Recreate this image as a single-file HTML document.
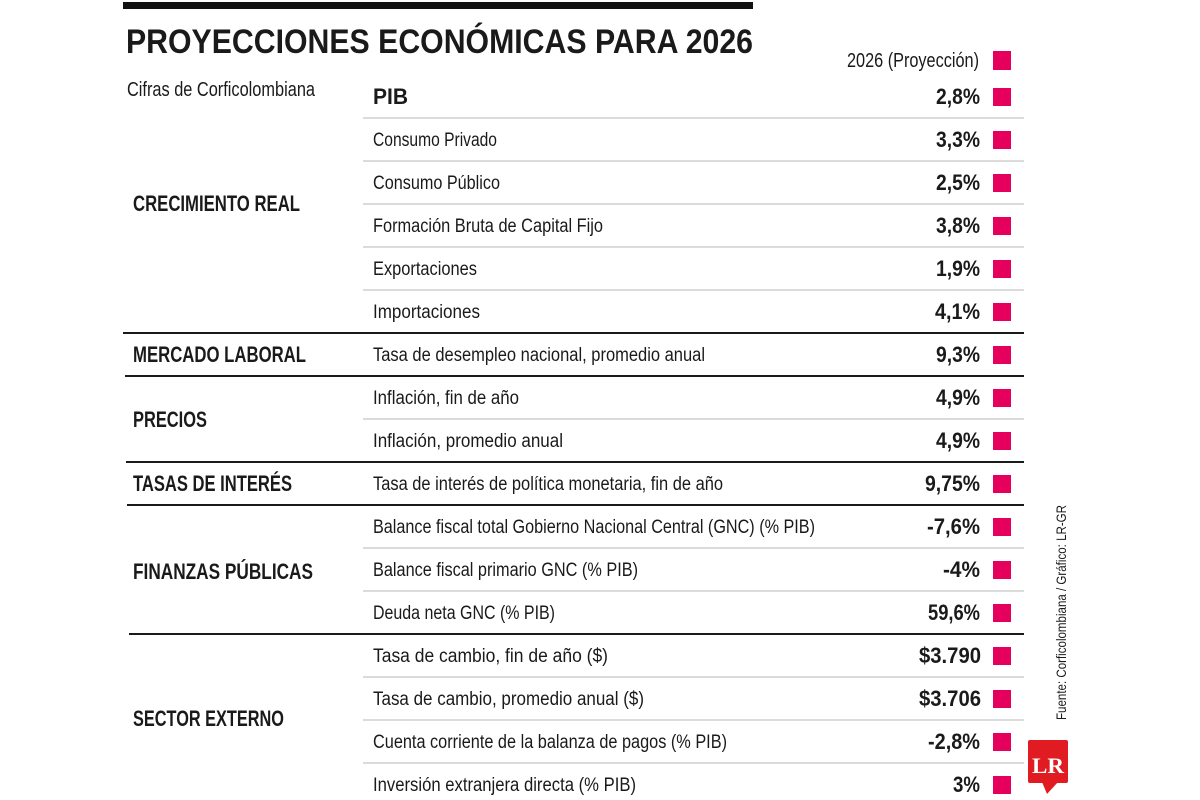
<!DOCTYPE html>
<html>
<head>
<meta charset="utf-8">
<style>
html,body{margin:0;padding:0;background:#fff;}
svg{display:block;}
.t{font-family:"Liberation Sans",sans-serif;fill:#1a1a1a;}
.r{font-size:19px;font-weight:400;}
.b{font-size:22.5px;font-weight:700;}
.v{font-size:22.5px;font-weight:700;text-anchor:end;}
</style>
</head>
<body>
<svg width="1200" height="800" viewBox="0 0 1200 800" xmlns="http://www.w3.org/2000/svg">
<rect x="0" y="0" width="1200" height="800" fill="#fff"/>
<!-- top bar -->
<rect x="123" y="2" width="630" height="7" fill="#111"/>
<!-- title -->
<text class="t" x="126" y="53" font-size="34" font-weight="700" textLength="627" lengthAdjust="spacingAndGlyphs">PROYECCIONES ECONÓMICAS PARA 2026</text>
<text class="t r" x="127" y="96" font-size="20" textLength="188" lengthAdjust="spacingAndGlyphs" style="font-size:20px">Cifras de Corficolombiana</text>
<!-- legend -->
<text class="t" x="979" y="67" font-size="20" text-anchor="end" textLength="132" lengthAdjust="spacingAndGlyphs">2026 (Proyección)</text>
<rect x="993" y="51" width="18" height="19" fill="#e6005e"/>

<!-- gray lines -->
<g stroke="#cfcfcf" stroke-width="1.5">
<line x1="363" y1="118" x2="1024" y2="118"/>
<line x1="363" y1="161" x2="1024" y2="161"/>
<line x1="363" y1="204" x2="1024" y2="204"/>
<line x1="363" y1="247" x2="1024" y2="247"/>
<line x1="363" y1="290" x2="1024" y2="290"/>
<line x1="363" y1="419" x2="1024" y2="419"/>
<line x1="363" y1="548" x2="1024" y2="548"/>
<line x1="363" y1="591" x2="1024" y2="591"/>
<line x1="363" y1="677" x2="1024" y2="677"/>
<line x1="363" y1="720" x2="1024" y2="720"/>
<line x1="363" y1="763" x2="1024" y2="763"/>
</g>
<!-- black lines -->
<g stroke="#1a1a1a" stroke-width="2">
<line x1="123" y1="333" x2="1024" y2="333"/>
<line x1="125" y1="376" x2="1024" y2="376"/>
<line x1="126" y1="462" x2="1024" y2="462"/>
<line x1="127" y1="505" x2="1024" y2="505"/>
<line x1="129" y1="634" x2="1024" y2="634"/>
</g>

<!-- section labels -->
<g class="t">
<text class="b" x="133" y="211" textLength="167" lengthAdjust="spacingAndGlyphs">CRECIMIENTO REAL</text>
<text class="b" x="133" y="362" textLength="173" lengthAdjust="spacingAndGlyphs">MERCADO LABORAL</text>
<text class="b" x="133" y="427" textLength="74" lengthAdjust="spacingAndGlyphs">PRECIOS</text>
<text class="b" x="133" y="491" textLength="159" lengthAdjust="spacingAndGlyphs">TASAS DE INTERÉS</text>
<text class="b" x="133" y="579" textLength="180" lengthAdjust="spacingAndGlyphs">FINANZAS PÚBLICAS</text>
<text class="b" x="133" y="726" textLength="151" lengthAdjust="spacingAndGlyphs">SECTOR EXTERNO</text>
</g>

<!-- row labels -->
<g class="t">
<text class="b" x="373" y="104" textLength="35" lengthAdjust="spacingAndGlyphs">PIB</text>
<text class="r" x="373" y="146" textLength="124" lengthAdjust="spacingAndGlyphs">Consumo Privado</text>
<text class="r" x="373" y="189" textLength="127" lengthAdjust="spacingAndGlyphs">Consumo Público</text>
<text class="r" x="373" y="232" textLength="230" lengthAdjust="spacingAndGlyphs">Formación Bruta de Capital Fijo</text>
<text class="r" x="373" y="275" textLength="104" lengthAdjust="spacingAndGlyphs">Exportaciones</text>
<text class="r" x="373" y="318" textLength="107" lengthAdjust="spacingAndGlyphs">Importaciones</text>
<text class="r" x="373" y="361" textLength="332" lengthAdjust="spacingAndGlyphs">Tasa de desempleo nacional, promedio anual</text>
<text class="r" x="373" y="404" textLength="146" lengthAdjust="spacingAndGlyphs">Inflación, fin de año</text>
<text class="r" x="373" y="447" textLength="190" lengthAdjust="spacingAndGlyphs">Inflación, promedio anual</text>
<text class="r" x="373" y="490" textLength="350" lengthAdjust="spacingAndGlyphs">Tasa de interés de política monetaria, fin de año</text>
<text class="r" x="373" y="533" textLength="442" lengthAdjust="spacingAndGlyphs">Balance fiscal total Gobierno Nacional Central (GNC) (% PIB)</text>
<text class="r" x="373" y="576" textLength="265" lengthAdjust="spacingAndGlyphs">Balance fiscal primario GNC (% PIB)</text>
<text class="r" x="373" y="619" textLength="182" lengthAdjust="spacingAndGlyphs">Deuda neta GNC (% PIB)</text>
<text class="r" x="373" y="662" textLength="235" lengthAdjust="spacingAndGlyphs">Tasa de cambio, fin de año ($)</text>
<text class="r" x="373" y="705" textLength="271" lengthAdjust="spacingAndGlyphs">Tasa de cambio, promedio anual ($)</text>
<text class="r" x="373" y="748" textLength="354" lengthAdjust="spacingAndGlyphs">Cuenta corriente de la balanza de pagos (% PIB)</text>
<text class="r" x="373" y="791" textLength="263" lengthAdjust="spacingAndGlyphs">Inversión extranjera directa (% PIB)</text>
</g>

<!-- values -->
<g class="t">
<text class="v" x="980" y="104" textLength="44" lengthAdjust="spacingAndGlyphs">2,8%</text>
<text class="v" x="980" y="147" textLength="44" lengthAdjust="spacingAndGlyphs">3,3%</text>
<text class="v" x="980" y="190" textLength="44" lengthAdjust="spacingAndGlyphs">2,5%</text>
<text class="v" x="980" y="233" textLength="44" lengthAdjust="spacingAndGlyphs">3,8%</text>
<text class="v" x="980" y="276" textLength="44" lengthAdjust="spacingAndGlyphs">1,9%</text>
<text class="v" x="980" y="319" textLength="45" lengthAdjust="spacingAndGlyphs">4,1%</text>
<text class="v" x="980" y="362" textLength="44" lengthAdjust="spacingAndGlyphs">9,3%</text>
<text class="v" x="980" y="405" textLength="44" lengthAdjust="spacingAndGlyphs">4,9%</text>
<text class="v" x="980" y="448" textLength="44" lengthAdjust="spacingAndGlyphs">4,9%</text>
<text class="v" x="980" y="491" textLength="55" lengthAdjust="spacingAndGlyphs">9,75%</text>
<text class="v" x="980" y="534" textLength="53" lengthAdjust="spacingAndGlyphs">-7,6%</text>
<text class="v" x="980" y="577" textLength="37" lengthAdjust="spacingAndGlyphs">-4%</text>
<text class="v" x="980" y="620" textLength="52" lengthAdjust="spacingAndGlyphs">59,6%</text>
<text class="v" x="981" y="663" textLength="62" lengthAdjust="spacingAndGlyphs">$3.790</text>
<text class="v" x="981" y="706" textLength="62" lengthAdjust="spacingAndGlyphs">$3.706</text>
<text class="v" x="980" y="749" textLength="52" lengthAdjust="spacingAndGlyphs">-2,8%</text>
<text class="v" x="980" y="792" textLength="27" lengthAdjust="spacingAndGlyphs">3%</text>
</g>

<!-- pink squares -->
<g fill="#e6005e">
<rect x="993" y="88" width="18" height="18"/>
<rect x="993" y="131" width="18" height="18"/>
<rect x="993" y="174" width="18" height="18"/>
<rect x="993" y="217" width="18" height="18"/>
<rect x="993" y="260" width="18" height="18"/>
<rect x="993" y="303" width="18" height="18"/>
<rect x="993" y="346" width="18" height="18"/>
<rect x="993" y="389" width="18" height="18"/>
<rect x="993" y="432" width="18" height="18"/>
<rect x="993" y="475" width="18" height="18"/>
<rect x="993" y="518" width="18" height="18"/>
<rect x="993" y="561" width="18" height="18"/>
<rect x="993" y="604" width="18" height="18"/>
<rect x="993" y="647" width="18" height="18"/>
<rect x="993" y="690" width="18" height="18"/>
<rect x="993" y="733" width="18" height="18"/>
<rect x="993" y="776" width="18" height="18"/>
</g>

<!-- source vertical -->
<text class="t" transform="translate(1066,720) rotate(-90)" x="0" y="0" font-size="14" textLength="215" lengthAdjust="spacingAndGlyphs">Fuente: Corficolombiana / Gráfico: LR-GR</text>

<!-- LR logo -->
<rect x="1028" y="740" width="40" height="43" rx="2" fill="#e01b22"/>
<polygon points="1042,782 1058,782 1047,794" fill="#e01b22"/>
<text x="1048" y="773" font-family="Liberation Serif,serif" font-weight="700" font-size="22" fill="#fff" text-anchor="middle" textLength="32" lengthAdjust="spacingAndGlyphs">LR</text>
</svg>
</body>
</html>
